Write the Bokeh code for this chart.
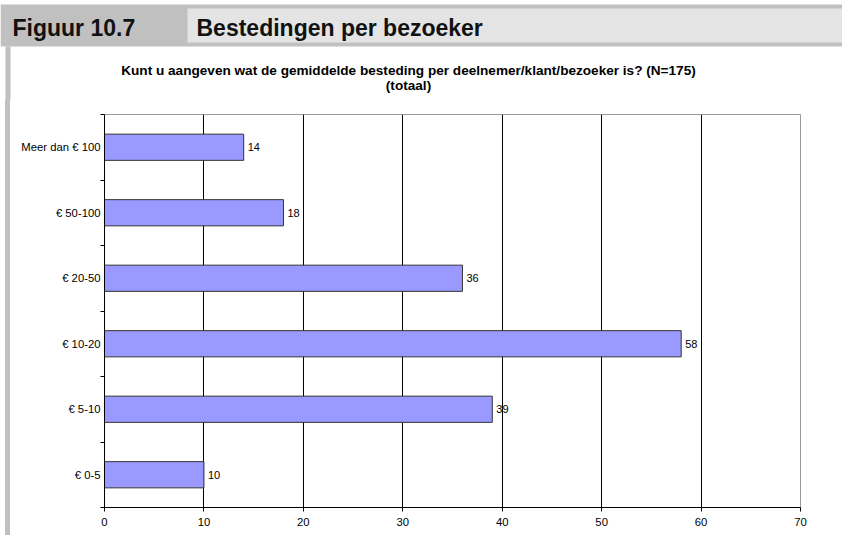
from bokeh.plotting import figure
from bokeh.models import Range1d, FixedTicker, BoxAnnotation, Spacer, ColumnDataSource
from bokeh.layouts import column, row
from bokeh.embed import file_html
from bokeh.resources import INLINE
from bokeh.core.properties import value

# ---------------- data ----------------
figure_number = "Figuur 10.7"
figure_title = "Bestedingen per bezoeker"
chart_title = [
    "Kunt u aangeven wat de gemiddelde besteding per deelnemer/klant/bezoeker is? (N=175)",
    "(totaal)",
]
categories = ["€ 0-5", "€ 5-10", "€ 10-20", "€ 20-50", "€ 50-100", "Meer dan € 100"]
counts = [10, 39, 58, 36, 18, 14]
x_ticks = [0, 10, 20, 30, 40, 50, 60, 70]

FONT = "Liberation Sans"
W = 842
H_HEAD = 100


def t(v):
    """top-down pixel position -> header figure y"""
    return H_HEAD - v


# ---------------- header ----------------
head = figure(width=W, height=H_HEAD, x_range=Range1d(0, W), y_range=Range1d(0, H_HEAD),
              x_axis_type=None, y_axis_type=None, toolbar_location=None,
              output_backend="svg", min_border=0, outline_line_color=None)
head.grid.visible = False
head.background_fill_color = "white"
head.border_fill_color = "white"

for l, r, tp, bt, c in [(0, W, 4, 46, "#c0c0c0"),
                        (187, W, 8, 42, "#e4e4e4"),
                        (5, 10, 46, H_HEAD, "#c0c0c0")]:
    head.add_layout(BoxAnnotation(left=l, right=r, top=t(tp), bottom=t(bt), fill_color=c,
                                  fill_alpha=1, line_color=None, level="underlay"))

head.text(x=[12], y=[t(27.5)], text=[figure_number], text_font=value(FONT), text_font_style="bold",
          text_font_size="23px", text_color="#111111", text_baseline="middle", text_align="left")
head.text(x=[196], y=[t(27.5)], text=[figure_title], text_font=value(FONT), text_font_style="bold",
          text_font_size="23px", text_color="#111111", text_baseline="middle", text_align="left")
head.text(x=[408, 408], y=[t(70), t(84.5)], text=chart_title, text_font=value(FONT),
          text_font_style="bold", text_font_size="13.6px", text_color="black",
          text_baseline="middle", text_align="center")

# ---------------- chart ----------------
ys = [i + 0.5 for i in range(len(categories))]
src = ColumnDataSource(dict(y=ys, count=counts, label=[str(c) for c in counts], cat=categories))

p = figure(frame_width=696, frame_height=393, x_range=Range1d(0, 70),
           y_range=Range1d(0, len(categories)), toolbar_location=None, output_backend="svg",
           min_border_left=94, min_border_right=42, min_border_top=14, min_border_bottom=28,
           outline_line_color="#999999")
p.background_fill_color = "white"
p.border_fill_color = "white"

p.hbar(y="y", right="count", left=0, height=0.4, source=src, fill_color="#9999ff",
       line_color="#333333", line_width=1)
p.text(x="count", y="y", text="label", x_offset=4, text_baseline="middle", text_align="left",
       text_font=value(FONT), text_font_size="11px", text_color="black", source=src)

# x axis
p.xaxis.ticker = FixedTicker(ticks=x_ticks)
p.xaxis.major_tick_in = 0
p.xaxis.major_tick_out = 4
p.xaxis.minor_tick_out = 0
p.xaxis.minor_tick_in = 0
p.xaxis.axis_line_color = "black"
p.xaxis.major_tick_line_color = "black"
p.xaxis.major_label_standoff = 6
p.xaxis.major_label_text_font = FONT
p.xaxis.major_label_text_font_size = "11.3px"
p.xaxis.major_label_text_color = "black"

# y axis
p.yaxis.ticker = FixedTicker(ticks=ys, minor_ticks=list(range(len(categories) + 1)))
p.yaxis.major_label_overrides = {y: c for y, c in zip(ys, categories)}
p.yaxis.major_tick_line_color = None
p.yaxis.major_tick_in = 0
p.yaxis.major_tick_out = 0
p.yaxis.minor_tick_in = 0
p.yaxis.minor_tick_out = 4
p.yaxis.minor_tick_line_color = "black"
p.yaxis.axis_line_color = "black"
p.yaxis.major_label_standoff = 0
p.yaxis.major_label_text_font = FONT
p.yaxis.major_label_text_font_size = "11.3px"
p.yaxis.major_label_text_color = "black"

# grid
p.xgrid.ticker = FixedTicker(ticks=x_ticks[1:-1])
p.xgrid.grid_line_color = "black"
p.xgrid.grid_line_width = 1
p.ygrid.visible = False

gap = Spacer(width=5, height=435)
strip = Spacer(width=5, height=435, styles={"background-color": "#c0c0c0"})
layout = column(head, row(gap, strip, p))

open("out.html", "w").write(file_html(layout, INLINE, title="Figuur 10.7"))
